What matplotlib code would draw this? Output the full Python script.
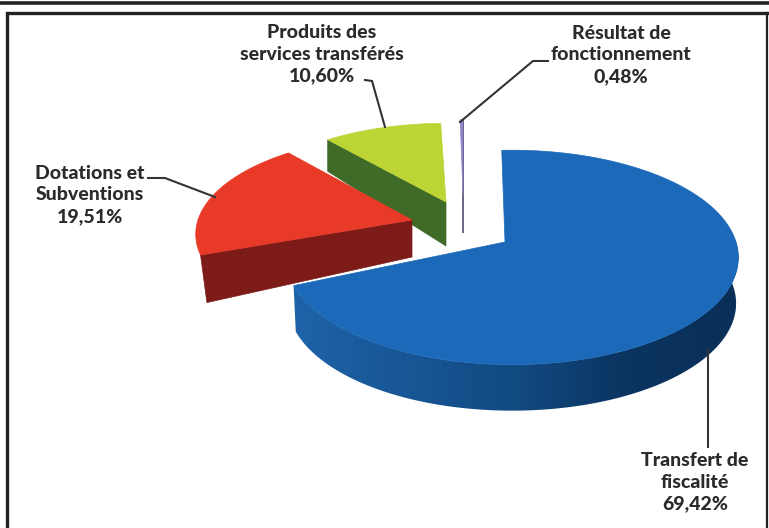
import matplotlib
matplotlib.use("Agg")
import matplotlib.pyplot as plt
from matplotlib.colors import LinearSegmentedColormap
from matplotlib.patches import Polygon
import numpy as np

# shares in %, clockwise from the top
labels = ["Transfert de\nfiscalité\n69,42%", "Dotations et\nSubventions\n19,51%",
          "Produits des\nservices transférés\n10,60%", "Résultat de\nfonctionnement\n0,48%"]
values = [69.42, 19.51, 10.60, 0.48]

top_colors = ["#1b69b8", "#e93a28", "#bcd535", "#8f84c6"]
side_colors = ["#0d3d6e", "#7c1b17", "#3f6a28", "#2f2c58"]

# drawing settings per slice: apex x, y, arc centre x, rx, ry, depth, bottom scale x, y, rotation
slice_geom = [
    (505, 242, 512, 224, 105, 46, 0.99, 1.00, 3),
    (412, 220, 412, 214, 97, 37, 0.97, 1.30, 0),
    (446, 202, 446, 205, 90, 44, 1.00, 1.20, 0),
    (463, 195, 463, 110, 86, 38, 1.00, 1.00, 0),
]
persp = 0.144

label_pos = [(695, 482), (90, 195), (322, 54), (621, 55)]
leaders = [
    ([708, 708], [350, 447]),
    ([148, 165, 215], [178, 178, 197]),
    ([365, 372, 385], [80, 81, 127]),
    ([548, 533, 460], [61, 61, 122]),
]


def project(t, rx, ry):
    den = 1 + persp * np.sin(t)
    return rx * np.cos(t) / den, -ry * np.sin(t) / den


fig = plt.figure(figsize=(7.69, 5.28), dpi=100)
ax = fig.add_axes([0, 0, 1, 1])
ax.set_xlim(0, 769)
ax.set_ylim(528, 0)
ax.axis("off")

# page rules
ax.plot([0, 769], [2.5, 2.5], color="#222222", lw=2.6, solid_capstyle="butt")
ax.plot([6.5, 6.5, 767], [528, 12.5, 12.5], color="#222222", lw=2.4, solid_joinstyle="miter")
ax.plot([767, 767], [12.5, 528], color="#222222", lw=1.6)

wall_cmap = LinearSegmentedColormap.from_list(
    "wall", [(0, "#1e63a9"), (0.5, "#124a82"), (0.75, "#0b3460"), (1, "#0a2f58")])

edges = 90 - np.cumsum([0] + values) * 360 / 100
for i in [2, 1, 3, 0]:
    x0, y0, cx, rx, ry, depth, sx, sy, rot = slice_geom[i]
    a0 = np.radians(edges[i] + rot)
    a1 = np.radians(edges[i + 1] + rot)
    t = np.linspace(a0, a1, 240)
    px, py = project(t, rx, ry)
    tx, ty = cx + px, y0 + py
    bx, by = cx + px * sx, y0 + depth + py * sy

    if i == 0:
        # outer wall of the big slice, lighter on the left
        wall = Polygon(np.r_[np.c_[tx, ty], np.c_[bx[::-1], by[::-1]]], fc="none", ec="none")
        ax.add_patch(wall)
        im = ax.imshow(np.linspace(0, 1, 300)[None, :], cmap=wall_cmap, aspect="auto",
                       extent=(290, 740, 420, 240), zorder=1)
        im.set_clip_path(wall)
        ax.set_xlim(0, 769)
        ax.set_ylim(528, 0)
    else:
        # cut face running to the apex
        k = -1 if i == 3 else 0
        ax.add_patch(Polygon([(tx[k], ty[k]), (x0, y0), (x0, y0 + depth), (bx[k], by[k])],
                             fc=side_colors[i], ec=side_colors[i], lw=0.5, zorder=1))
    ax.add_patch(Polygon(np.r_[[(x0, y0)], np.c_[tx, ty]], fc=top_colors[i], ec=top_colors[i],
                         lw=0.5, zorder=1))

for (lx, ly) in leaders:
    ax.plot(lx, ly, color="#333333", lw=1.5, solid_joinstyle="miter", zorder=2)

for lab, (x, y) in zip(labels, label_pos):
    ax.text(x, y, lab, ha="center", va="center", family="Lato", weight="black",
            fontsize=14, color="#2b2b2b", linespacing=1.32)

fig.savefig("out.png", dpi=100)
